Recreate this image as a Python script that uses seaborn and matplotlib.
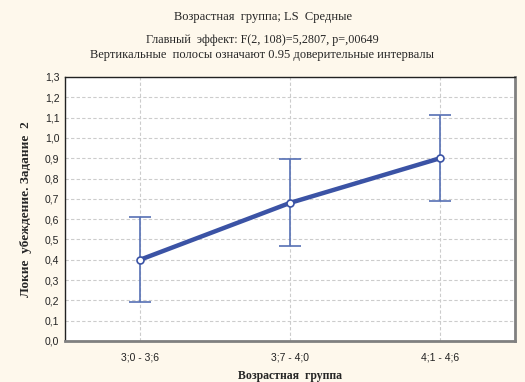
import matplotlib
matplotlib.use("Agg")
import matplotlib.pyplot as plt
import seaborn as sns
import pandas as pd
import numpy as np

groups = ["3;0 - 3;6", "3;7 - 4;0", "4;1 - 4;6"]
means = [0.40, 0.68, 0.90]
ci_low = [0.19, 0.47, 0.69]
ci_high = [0.61, 0.895, 1.115]
yticks = [round(0.1 * i, 1) for i in range(14)]

sns.set_theme(style="white")
plt.rcParams['font.family'] = ['Liberation Sans', 'DejaVu Sans']

bg = "#FEF8EC"
line_col = "#3B53A5"
err_col = "#5670B4"

fig = plt.figure(figsize=(5.25, 3.82), dpi=100, facecolor=bg)
ax = fig.add_axes([65/525, 1-341/382, 450/525, 264/382])
ax.set_facecolor("white")

df = pd.DataFrame({"group": groups, "mean": means})
sns.pointplot(data=df, x="group", y="mean", errorbar=None, color=line_col,
              markers="o", linestyles="-", ax=ax, linewidth=3.2,
              markersize=5, markerfacecolor="white", markeredgecolor=line_col,
              markeredgewidth=1.2, zorder=4)
xs = np.arange(len(groups))
m = np.array(means)
ax.errorbar(xs, m, yerr=[m - np.array(ci_low), np.array(ci_high) - m],
            fmt="none", ecolor=err_col, elinewidth=1.2, capsize=8, capthick=1.2, zorder=3)

ax.set_xlim(-0.5, 2.5)
ax.set_ylim(0, 1.3)
ax.set_yticks(yticks)
ax.set_yticklabels([f"{t:.1f}".replace(".", ",") for t in yticks])
ax.tick_params(axis="both", labelsize=7.5, colors="#222222", length=0, pad=4)
ax.tick_params(axis="x", pad=8)
ax.grid(True, linestyle=(0, (3, 2)), color="#CCCCCC", linewidth=0.8)
ax.set_axisbelow(True)

for s in ["left", "top"]:
    ax.spines[s].set_color("#222222")
    ax.spines[s].set_linewidth(1.0)
for s in ["right", "bottom"]:
    ax.spines[s].set_color("#808080")
    ax.spines[s].set_linewidth(2.0)

serif = ["Liberation Serif", "DejaVu Serif"]
ax.set_xlabel("")
fig.text(290/525, 1-376/382, "Возрастная  группа", ha="center", va="center",
         family=serif, fontweight="bold", fontsize=8.5)
ax.set_ylabel("Локие  убеждение. Задание  2", family=serif,
              fontweight="bold", fontsize=9.5, labelpad=9)

fig.text(0.5, 1-17/382, "Возрастная  группа; LS  Средные", ha="center", va="center",
         family=serif, fontsize=9)
fig.text(0.5, 1-40/382, "Главный  эффект: F(2, 108)=5,2807, p=,00649", ha="center", va="center",
         family=serif, fontsize=8.7)
fig.text(0.5, 1-55/382, "Вертикальные  полосы означают 0.95 доверительные интервалы", ha="center",
         va="center", family=serif, fontsize=9)

fig.savefig("out.png", dpi=100, facecolor=bg)
